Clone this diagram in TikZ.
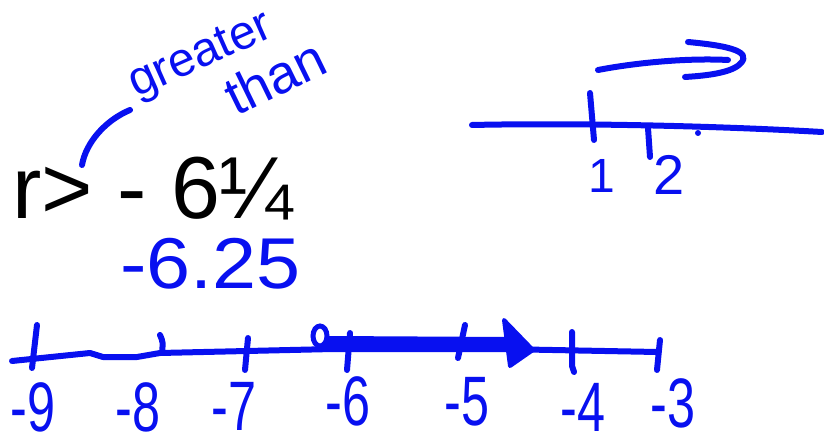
\documentclass[tikz,border=0pt]{standalone}
\usepackage{fontspec}
\usepackage{graphicx}
\setmainfont{Liberation Sans}
\definecolor{ink}{RGB}{8,16,240}
\tikzset{
  pen/.style={draw=ink, line width=6pt, line cap=round, line join=round},
  hand/.style={text=ink, inner sep=0pt},
  lbl/.style={hand, anchor=base, font=\fontsize{70}{70}\selectfont},
}
\begin{document}
\begin{tikzpicture}[x=1pt,y=-1pt]
\useasboundingbox (0,0) rectangle (824,446);
% black inequality
\node[anchor=base west, inner sep=0pt, font=\fontsize{88}{88}\selectfont] (ineq) at (12,219) {r> - 6¼};
% greater than annotation
\node[hand, anchor=base west, rotate=24, font=\fontsize{48}{48}\selectfont] (gr) at (136,98) {greater};
\node[hand, anchor=base west, rotate=26, font=\fontsize{54}{54}\selectfont] (th) at (236,117) {than};
\draw[pen] (82,165) .. controls (86,142) and (106,120) .. (130,110);
% decimal
\node[hand, anchor=base west, font=\fontsize{72}{72}\selectfont] (dec) at (120,288) {\scalebox{1.1}[1]{-6.25}};
% top-right number line
\draw[pen] (472,125) .. controls (560,123) and (700,125) .. (822,132);
\draw[pen] (590,93) -- (594,140);
\draw[pen] (648,128) -- (650,157);
\fill[ink] (698,133) circle (3pt);
\node[lbl, font=\fontsize{48}{48}\selectfont] (one) at (602,193) {1};
\node[lbl, font=\fontsize{56}{56}\selectfont] (two) at (669,195) {2};
\draw[pen] (598,70) .. controls (640,62) and (690,58) .. (728,60);
\draw[pen] (688,42) .. controls (720,45) and (755,50) .. (740,64) .. controls (730,74) and (700,76) .. (685,77);
% bottom number line
\draw[pen] (12,361) -- (90,353) -- (103,357) -- (137,357) -- (160,353) -- (247,351) -- (333,349) -- (500,349) -- (657,352);
\draw[pen] (37,325) -- (32,368);
\draw[pen] (160,335) .. controls (163,342) .. (162,353);
\draw[pen] (248,338) -- (245,370);
\draw[pen] (350,333) -- (347,370);
\draw[pen] (465,325) -- (458,358);
\draw[pen] (572,332) -- (572,366) -- (574,372);
\draw[pen] (660,340) -- (657,370);
% solution ray
\draw[draw=ink, line width=5pt] (320,336) ellipse (7pt and 10pt);
\draw[draw=ink, line width=12pt, line cap=round] (330,342) -- (505,343);
\filldraw[ink, line width=4pt, line join=round] (504,320) -- (533,350) -- (510,366) -- cycle;
% labels
\node[lbl] (m9) at (33,431) {\scalebox{0.72}[1]{-9}};
\node[lbl] (m8) at (138,431) {\scalebox{0.72}[1]{-8}};
\node[lbl] (m7) at (234,430) {\scalebox{0.72}[1]{-7}};
\node[lbl] (m6) at (348,425) {\scalebox{0.72}[1]{-6}};
\node[lbl] (m5) at (467,425) {\scalebox{0.72}[1]{-5}};
\node[lbl] (m4) at (583,431) {\scalebox{0.72}[1]{-4}};
\node[lbl] (m3) at (673,427) {\scalebox{0.72}[1]{-3}};
\end{tikzpicture}
\end{document}
